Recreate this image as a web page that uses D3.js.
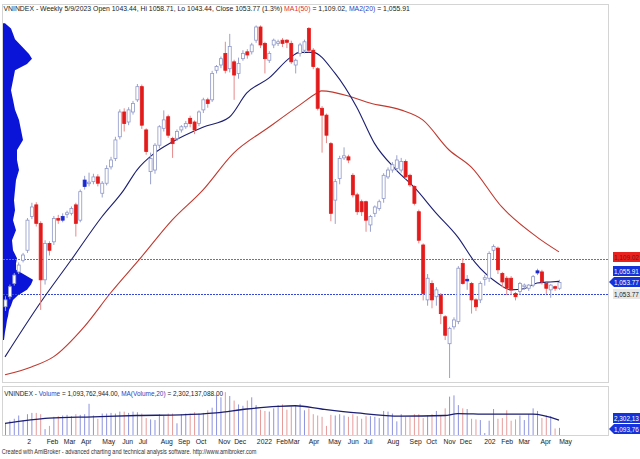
<!DOCTYPE html>
<html>
<head>
<meta charset="utf-8">
<script src="https://cdn.jsdelivr.net/npm/d3@7"></script>
<style>
  body { margin: 0; background: #fff; }
  svg { font-family: "Liberation Sans", Arial, sans-serif; }
</style>
</head>
<body>
<svg id="chart" width="640" height="459"></svg>
<script>
// weekly candles, VNINDEX: open, high, low, close
var opens = [1008,1027,1052,1074,1096,1115,1179,1201,1166,1059,1128,1131,1175,1172,1183,1185,1201,1172,1236,1242,
  1245,1254,1223,1242,1273,1289,1330,1377,1358,1377,1400,1425,1343,1264,1267,1314,1346,1368,1327,1327,
  1343,1349,1365,1358,1355,1381,1400,1400,1456,1466,1488,1459,1472,1450,1478,1491,1491,1513,1538,1507,
  1475,1504,1507,1513,1513,1507,1466,1488,1494,1535,1494,1459,1384,1371,1317,1210,1251,1290,1292,1257,
  1220,1207,1207,1163,1185,1194,1213,1254,1267,1270,1267,1283,1257,1236,1188,1125,1021,1052,1027,1030,
  989,938,970,980,1090,1057,1052,1021,1021,1060,1062,1115,1119,1071,1062,1062,1033,1037,1046,1043,
  1049,1072,1074,1052,1040,1046,1043];
var closes = [1021,1046,1068,1087,1106,1172,1197,1166,1059,1128,1115,1175,1172,1179,1186,1194,1166,1226,1248,1244,
  1254,1242,1242,1270,1286,1324,1377,1355,1381,1393,1425,1352,1302,1289,1314,1349,1362,1333,1317,1340,
  1349,1355,1355,1343,1377,1400,1393,1450,1463,1478,1456,1501,1447,1469,1488,1485,1504,1538,1504,1478,
  1488,1513,1510,1507,1509,1472,1475,1504,1510,1494,1463,1384,1371,1333,1185,1245,1289,1294,1286,1220,
  1188,1188,1172,1179,1197,1207,1257,1267,1277,1286,1283,1254,1239,1204,1134,1033,1062,1021,1040,995,
  954,967,983,1081,1052,1060,1021,1008,1052,1063,1109,1122,1078,1055,1043,1040,1027,1052,1049,1049,
  1065,1076,1055,1043,1049,1043,1054];
var highs = [1028,1050,1072,1092,1110,1176,1205,1206,1170,1134,1132,1180,1182,1185,1190,1198,1205,1230,1256,1262,
  1260,1259,1246,1276,1292,1330,1382,1384,1386,1398,1430,1429,1346,1300,1318,1352,1380,1372,1330,1344,
  1352,1360,1370,1361,1380,1404,1404,1455,1466,1482,1510,1525,1476,1480,1494,1496,1508,1541,1541,1510,
  1492,1516,1514,1517,1515,1512,1478,1508,1514,1538,1498,1462,1388,1374,1320,1250,1294,1310,1296,1261,
  1224,1211,1209,1182,1200,1211,1261,1272,1282,1295,1290,1287,1260,1238,1192,1128,1070,1058,1045,1034,
  992,970,988,1085,1100,1068,1055,1024,1056,1068,1113,1126,1122,1074,1066,1066,1036,1055,1052,1051,
  1068,1080,1078,1054,1051,1048,1059];
var lows = [1000,1022,1048,1070,1092,1110,1174,1160,1002,1050,1105,1125,1165,1168,1176,1181,1141,1168,1230,1236,
  1240,1236,1215,1238,1268,1284,1325,1340,1352,1372,1396,1345,1296,1240,1260,1308,1340,1328,1290,1322,
  1338,1345,1348,1335,1350,1375,1385,1396,1450,1460,1450,1452,1400,1440,1474,1478,1486,1508,1498,1450,
  1470,1498,1502,1500,1498,1468,1450,1482,1488,1490,1458,1380,1300,1318,1170,1165,1240,1286,1280,1215,
  1182,1180,1150,1150,1178,1190,1205,1250,1262,1265,1262,1250,1235,1200,1128,1020,1010,1005,1010,975,
  945,873,965,975,1050,1040,995,1000,1015,1048,1055,1098,1070,1045,1030,1030,1020,1030,1040,1038,
  1045,1068,1050,1032,1025,1038,1040];
// bars drawn as solid blue
var blueBars = [13, 18, 105, 121];

// moving averages: [bar, value]
var ma20 = [[0,913],[8,1015],[15,1096],[22,1178],[27,1229],[30,1267],[34,1299],[38,1320],[45,1348],[51,1367],
  [55,1413],[60,1441],[65,1481],[67,1490],[70,1490],[75,1451],[80,1386],[84,1318],[89,1267],[93,1235],
  [98,1186],[103,1140],[107,1091],[112,1053],[115,1040],[118,1042],[121,1053],[124,1055],[126,1056]];
var ma50 = [[0,879],[6,894],[11,913],[18,970],[24,1034],[31,1102],[38,1172],[45,1229],[52,1299],[60,1348],
  [67,1390],[71,1413],[72,1417],[79,1405],[83,1394],[90,1381],[95,1362],[101,1305],[106,1273],[113,1197],
  [121,1140],[126,1112]];

// weekly volume, billions of shares
var volumes = [1.8,2.2,2.5,3.0,2.3,3.2,3.4,3.4,3.2,0.9,1.4,2.8,2.9,3.0,3.1,2.9,3.2,3.1,3.2,4.8,
  3.0,2.5,3.3,3.3,3.4,3.3,3.6,3.6,3.4,3.6,3.5,3.3,2.6,2.4,2.3,3.2,3.0,3.3,3.3,1.8,
  3.2,3.3,3.3,3.5,3.3,3.4,3.8,4.2,6.2,5.8,6.6,6.0,5.3,4.7,4.5,5.3,5.8,4.6,3.9,3.7,
  3.6,4.1,4.6,4.7,3.9,4.4,4.6,4.8,3.8,4.1,3.2,3.0,2.8,1.4,3.1,3.0,3.2,3.0,2.8,3.2,
  2.9,2.5,2.9,2.9,2.8,2.6,3.7,3.6,3.3,2.1,3.2,2.8,2.8,3.2,3.2,2.6,3.0,3.2,3.7,3.0,
  4.1,5.9,6.1,4.6,4.1,4.0,2.5,2.4,2.3,0.3,2.2,4.0,2.5,2.6,3.8,2.2,2.4,3.0,2.3,3.2,
  4.1,3.7,2.6,3.0,2.9,1.0,1.094];
var volMA = [[0,1.8],[10,2.6],[20,2.8],[30,3.0],[40,3.1],[48,3.4],[55,4.0],[62,4.4],[66,4.5],[72,4.0],
  [80,3.4],[90,2.9],[100,3.0],[103,3.3],[110,3.2],[120,3.2],[126,2.3]];

// left volume-at-price profile: price level, width
var profPrice = [1545,1535,1525,1515,1505,1495,1487,1478,1468,1456,1437,1418,1400,1381,1362,1343,1324,1305,1286,1267,1248,1229,
  1210,1191,1172,1153,1134,1115,1100,1090,1078,1068,1059,1050,1040,1030,1021,1010,1002,990,983,970,960,945];
var profWidth = [2,8,10,12,17,22,26,29,24,12,10,8,10,12,16,18,20,14,14,16,13,12,
  11,12,10,13,9,10,14,13,13,22,30,28,24,15,10,8,6,5,4,3,2,1];

var monthTicks = [[5.5,"2"],[10.8,"Feb"],[14.7,"Mar"],[18.5,"Apr"],[23.6,"May"],[27.9,"Jun"],[31.4,"Jul"],[36.8,"Aug"],
  [40.7,"Sep"],[44.6,"Oct"],[49.9,"Nov"],[53.5,"Dec"],[59,"2022"],[63,"Feb"],[65.7,"Mar"],[70.3,"Apr"],[75,"May"],
  [79.2,"Jun"],[82.6,"Jul"],[88.3,"Aug"],[93.4,"Sep"],[97,"Oct"],[101.1,"Nov"],[104.8,"Dec"],[110.3,"202"],
  [114.2,"Feb"],[118.1,"Mar"],[123,"Apr"],[127.5,"May"]];

var redLevel = 1098, blueLevel = 1032;

var svg = d3.select("#chart");
var x = d3.scaleLinear().domain([0, 126]).range([5, 559]);
var y = d3.scaleLinear().domain([873, 1538]).range([378, 27]);
var yv = d3.scaleLinear().domain([0, 7]).range([435, 389.5]);

// panes
svg.append("rect").attr("x", 2.5).attr("y", 4.5).attr("width", 606).attr("height", 378)
  .attr("fill", "none").attr("stroke", "#d4d4d4");
svg.append("rect").attr("x", 2.5).attr("y", 386.5).attr("width", 606).attr("height", 49)
  .attr("fill", "none").attr("stroke", "#d4d4d4");

// profile
var prof = d3.area()
  .y(function(d) { return y(d); })
  .x0(3).x1(function(d, i) { return 3 + profWidth[i]; });
svg.append("path").attr("d", prof(profPrice)).attr("fill", "#0a14d8");

// reference lines
function hline(v, col) {
  var yy = Math.round(y(v)) + 0.5;
  svg.append("line").attr("x1", 3).attr("x2", 608).attr("y1", yy).attr("y2", yy)
    .attr("stroke", col).attr("stroke-dasharray", "2,1").attr("stroke-width", 1);
}
hline(redLevel, "#e8454a");
hline(blueLevel, "#3448e0");

// moving averages
var line = d3.line().x(function(d) { return x(d[0]); }).y(function(d) { return y(d[1]); }).curve(d3.curveMonotoneX);
svg.append("path").attr("d", line(ma50)).attr("fill", "none").attr("stroke", "#c0392f").attr("stroke-width", 1.1);
svg.append("path").attr("d", line(ma20)).attr("fill", "none").attr("stroke", "#1c1f70").attr("stroke-width", 1.1);

// candles
var bars = svg.append("g").selectAll("g").data(closes).enter().append("g");
bars.append("line")
  .attr("x1", function(d, i) { return x(i) + 0.5; }).attr("x2", function(d, i) { return x(i) + 0.5; })
  .attr("y1", function(d, i) { return y(highs[i]); }).attr("y2", function(d, i) { return y(lows[i]); })
  .attr("stroke", function(d, i) { return d < opens[i] ? "#e58a8a" : "#9aa2cc"; });
bars.append("rect")
  .attr("x", function(d, i) { return x(i) - 1; }).attr("width", 3)
  .attr("y", function(d, i) { return y(Math.max(d, opens[i])); })
  .attr("height", function(d, i) { return Math.max(1.5, Math.abs(y(d) - y(opens[i]))); })
  .attr("fill", function(d, i) {
    if (blueBars.indexOf(i) >= 0) return "#1a2ad0";
    return d < opens[i] ? "#e31b1b" : "#fff";
  })
  .attr("stroke", function(d, i) {
    if (blueBars.indexOf(i) >= 0) return "#1a2ad0";
    return d < opens[i] ? "#e31b1b" : "#8f98c8";
  }).attr("stroke-width", 0.8);

// volume bars
svg.append("g").selectAll("line").data(volumes).enter().append("line")
  .attr("x1", function(d, i) { return x(i) + 0.5; }).attr("x2", function(d, i) { return x(i) + 0.5; })
  .attr("y1", yv(0)).attr("y2", function(d) { return yv(d); })
  .attr("stroke", function(d, i) { return closes[i] < opens[i] ? "#e79a9a" : "#8d93e0"; })
  .attr("stroke-width", 1);
var vline = d3.line().x(function(d) { return x(d[0]); }).y(function(d) { return yv(d[1]); }).curve(d3.curveMonotoneX);
svg.append("path").attr("d", vline(volMA)).attr("fill", "none").attr("stroke", "#1c1f70").attr("stroke-width", 1.3);

// month axis
svg.append("g").selectAll("text").data(monthTicks).enter().append("text")
  .attr("x", function(d) { return x(d[0]); }).attr("y", 444)
  .attr("text-anchor", "middle").attr("font-size", 8).attr("fill", "#222")
  .attr("transform", function(d) { return "translate(" + x(d[0]) + ",444) scale(0.85,1) translate(" + (-x(d[0])) + ",-444)"; })
  .text(function(d) { return d[1]; });

// header
var head = svg.append("text").attr("x", 4).attr("y", 11).attr("font-size", 8).attr("fill", "#222")
  .attr("transform", "scale(0.86,1)");
head.append("tspan").text("VNINDEX - Weekly 5/9/2023 Open 1043.44, Hi 1058.71, Lo 1043.44, Close 1053.77 (1.3%) ");
head.append("tspan").attr("fill", "#e03030").text("MA1(50)");
head.append("tspan").text(" = 1,109.02, ");
head.append("tspan").attr("fill", "#3040c0").text("MA2(20)");
head.append("tspan").text(" = 1,055.91");

var vhead = svg.append("text").attr("x", 5).attr("y", 396).attr("font-size", 7.5).attr("fill", "#222")
  .attr("transform", "scale(0.86,1)");
vhead.append("tspan").text("VNINDEX - ");
vhead.append("tspan").attr("fill", "#3040c0").text("Volume");
vhead.append("tspan").text(" = 1,093,762,944.00, ");
vhead.append("tspan").attr("fill", "#3040c0").text("MA(Volume,20)");
vhead.append("tspan").text(" = 2,302,137,088.00");

svg.append("text").attr("x", 2).attr("y", 454).attr("font-size", 6.5).attr("fill", "#333")
  .attr("transform", "scale(0.86,1)")
  .text("Created with AmiBroker - advanced charting and technical analysis software. http://www.amibroker.com");

// right-side value tags
function tag(yy, txt, bg, fg, arrow) {
  var g = svg.append("g");
  if (arrow) {
    g.append("path").attr("d", "M609," + yy + " L614," + (yy - 5) + " L640," + (yy - 5) + " L640," + (yy + 5) + " L614," + (yy + 5) + " Z").attr("fill", bg);
  } else {
    g.append("rect").attr("x", 613).attr("y", yy - 5).attr("width", 27).attr("height", 10).attr("fill", bg);
  }
  g.append("text").attr("x", 614).attr("y", yy + 3).attr("font-size", 7.5).attr("fill", fg)
    .attr("transform", "translate(614," + (yy + 3) + ") scale(0.85,1) translate(-614," + (-(yy + 3)) + ")").text(txt);
}
tag(257, "1,109.02", "#e8231f", "#7a1010", false);
tag(271, "1,055.91", "#1533d8", "#fff", false);
tag(282, "1,053.77", "#1533d8", "#fff", true);
tag(294, "1,053.77", "#e6e6e6", "#222", false);
tag(418, "2,302,13", "#1533d8", "#fff", false);
tag(429, "1,093,76", "#1533d8", "#fff", true);
</script>
</body>
</html>
